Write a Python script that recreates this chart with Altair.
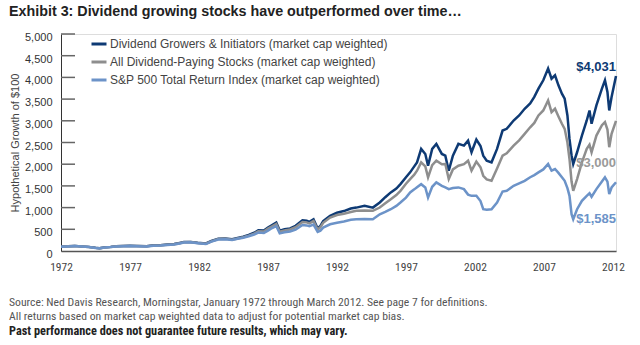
import altair as alt
import pandas as pd

# ---------------- data ----------------
years = [1972.0, 1972.5, 1973.0, 1973.5, 1974.0, 1974.5, 1974.8, 1975.2, 1975.6, 1976.0,
         1976.5, 1977.0, 1977.5, 1978.2, 1978.7, 1979.2, 1979.7, 1980.2, 1980.6, 1980.9,
         1981.4, 1981.9, 1982.5, 1982.9, 1983.4, 1983.9, 1984.4, 1984.8, 1985.2, 1985.6,
         1986.0, 1986.3, 1986.7, 1987.0, 1987.3, 1987.6, 1987.85, 1988.2, 1988.6, 1989.0,
         1989.5, 1989.8, 1990.0, 1990.3, 1990.6, 1990.8, 1991.0, 1991.5, 1992.0, 1992.5,
         1993.0, 1993.4, 1994.0, 1994.6, 1995.1, 1995.5, 1995.9, 1996.3, 1996.6, 1997.0,
         1997.3, 1997.6, 1997.8, 1998.1, 1998.4, 1998.6, 1998.9, 1999.2, 1999.6, 1999.85,
         2000.1, 2000.4, 2000.8, 2001.2, 2001.5, 2001.75, 2002.1, 2002.4, 2002.6, 2002.85,
         2003.2, 2003.6, 2004.0, 2004.3, 2004.8, 2005.2, 2005.6, 2006.0, 2006.3, 2006.6,
         2006.95, 2007.3, 2007.55, 2007.8, 2008.05, 2008.3, 2008.5, 2008.7, 2008.85, 2009.0,
         2009.12, 2009.4, 2009.75, 2010.1, 2010.3, 2010.45, 2010.8, 2011.2, 2011.42, 2011.6,
         2011.73, 2011.9, 2012.22]

growers = [100, 108, 118, 105, 95, 75, 66, 85, 95, 110,
           118, 120, 118, 112, 130, 135, 150, 160, 185, 205,
           210, 190, 175, 230, 285, 290, 270, 300, 330, 370,
           420, 480, 470, 540, 600, 655, 470, 500, 520, 580,
           710, 700, 670, 730, 520, 580, 690, 810, 880, 920,
           980, 1000, 1040, 1000, 1118, 1240, 1350, 1440, 1541, 1700,
           1812, 1950, 2043, 2352, 2236, 1965, 2352, 2468, 2236, 2197,
           1850, 2197, 2468, 2428, 2544, 2275, 2570, 2420, 2197, 2081,
           2043, 2352, 2776, 2815, 3007, 3123, 3278, 3400, 3550, 3741,
           3933, 4204, 3972, 4049, 3817, 3625, 3509, 3123, 2583, 2200,
           2005, 2275, 2660, 3007, 3238, 2931, 3354, 3741, 3933, 3664,
           3238, 3549, 4031]

all_div = [100, 107, 116, 103, 92, 72, 63, 82, 92, 107,
           115, 116, 114, 108, 125, 130, 145, 155, 180, 200,
           205, 185, 168, 222, 275, 280, 262, 290, 318, 355,
           400, 455, 448, 515, 570, 620, 445, 475, 495, 550,
           670, 660, 635, 690, 490, 550, 650, 770, 830, 860,
           900, 925, 935, 925, 1002, 1100, 1194, 1290, 1387, 1550,
           1657, 1760, 1850, 2043, 1950, 1697, 1980, 2081, 2000, 2005,
           1657, 1880, 1965, 2000, 2081, 1850, 2060, 1930, 1734, 1650,
           1618, 1900, 2197, 2250, 2428, 2550, 2699, 2850, 2950, 3123,
           3238, 3470, 3201, 3278, 3100, 2931, 2815, 2500, 2120, 1600,
           1387, 1657, 2043, 2352, 2450, 2275, 2660, 2900, 2970, 2800,
           2391, 2699, 3000]

sp500 = [100, 106, 115, 102, 90, 70, 62, 80, 90, 105,
         112, 113, 110, 105, 122, 127, 140, 150, 175, 195,
         200, 180, 160, 215, 265, 270, 255, 280, 305, 340,
         380, 425, 415, 470, 530, 575, 405, 430, 450, 490,
         600, 590, 570, 610, 440, 470, 540, 616, 650, 680,
         720, 731, 740, 731, 847, 900, 963, 1040, 1118, 1230,
         1350, 1420, 1470, 1540, 1465, 1233, 1480, 1581, 1500, 1465,
         1425, 1450, 1465, 1425, 1300, 1271, 1271, 1150, 963, 950,
         963, 1118, 1370, 1387, 1502, 1560, 1618, 1700, 1750, 1812,
         1880, 2005, 1850, 1889, 1800, 1697, 1618, 1450, 1271, 847,
         731, 963, 1155, 1271, 1330, 1250, 1426, 1600, 1697, 1600,
         1310, 1464, 1585]

series_names = ["Dividend Growers & Initiators (market cap weighted)",
                "All Dividend-Paying Stocks (market cap weighted)",
                "S&P 500 Total Return Index (market cap weighted)"]
series_colors = ["#0e3a74", "#8e8e8e", "#6c93c8"]
end_labels = ["$4,031", "$3,000", "$1,585"]
y_ticks = list(range(0, 5001, 500))
x_ticks = list(range(1972, 2013, 5))

title_text = "Exhibit 3: Dividend growing stocks have outperformed over time\u2026"
note_lines = ["Source: Ned Davis Research, Morningstar, January 1972 through March 2012. See page 7 for definitions.",
              "All returns based on market cap weighted data to adjust for potential market cap bias."]
note_bold = "Past performance does not guarantee future results, which may vary."

# ---------------- build tables ----------------
rows = []
for name, vals in zip(series_names, [growers, all_div, sp500]):
    for yr, v in zip(years, vals):
        rows.append({"year": yr, "value": v, "series": name})
df = pd.DataFrame(rows)

ends = pd.DataFrame({"year": [years[-1]] * 3,
                     "value": [growers[-1], all_div[-1], sp500[-1]],
                     "series": series_names,
                     "label": end_labels})

REG = "Liberation Sans, Arial, sans-serif"
COND = "Roboto Condensed, Liberation Sans, sans-serif"

xscale = alt.Scale(domain=[1972, years[-1]], nice=False, zero=False)
yscale = alt.Scale(domain=[0, 5000], nice=False)
cscale = alt.Scale(domain=series_names, range=series_colors)

legend = alt.Legend(orient="none", legendX=29, legendY=1, title=None,
                    symbolType="stroke", symbolSize=225, symbolStrokeWidth=3,
                    labelFont=REG, labelFontSize=12, labelColor="#444",
                    rowPadding=3, labelLimit=400, padding=0, labelOffset=2)

x_axis = alt.Axis(values=x_ticks, format="d", title=None, ticks=False, grid=False,
                  domainColor="#555", domainWidth=1.5, labelFont=COND,
                  labelFontSize=11.5, labelColor="#444", labelPadding=10,
                  labelFlush=False)
y_axis = alt.Axis(values=y_ticks, format=",.0f", title="Hypothetical Growth of $100",
                  ticks=False, grid=False, domainColor="#333", domainWidth=1,
                  labelFont=REG, labelFontSize=11, labelColor="#333", labelPadding=9,
                  labelOffset=3.5,
                  titleFont=REG, titleFontSize=11, titleFontWeight="normal",
                  titleColor="#444", titlePadding=4)

X = alt.X("year:Q", scale=xscale, axis=x_axis)
Y = alt.Y("value:Q", scale=yscale, axis=y_axis)

ticks = alt.Chart(pd.DataFrame({"value": y_ticks[1:]})).mark_rule(
    color="#666", strokeWidth=1.5).encode(y=Y, x=alt.value(0), x2=alt.value(14))

layers = [ticks]
for i, name in enumerate(series_names):
    layers.append(
        alt.Chart(df[df["series"] == name]).mark_line(strokeWidth=2.5).encode(
            x=X, y=Y,
            color=alt.Color("series:N", scale=cscale, legend=legend))
    )

label_dy = [-9, 42, 37]
label_colors = ["#0e3a74", "#9a9a9a", "#6c93c8"]
for i, name in enumerate(series_names):
    layers.append(
        alt.Chart(ends[ends["series"] == name]).mark_text(
            align="right", baseline="middle", dy=label_dy[i], font=REG,
            fontSize=13, fontWeight="bold", color=label_colors[i]).encode(
            x=X, y=Y, text="label:N")
    )

notes = alt.Chart(pd.DataFrame({"t": ["\n".join(note_lines)]})).mark_text(
    align="left", baseline="middle", font=COND, fontSize=11.7, color="#555",
    lineBreak="\n", lineHeight=14.5).encode(
    x=alt.value(-52), y=alt.value(267.5), text="t:N")
notes_b = alt.Chart(pd.DataFrame({"t": [note_bold]})).mark_text(
    align="left", baseline="middle", font=COND, fontSize=12.3, fontWeight="bold",
    color="#222").encode(x=alt.value(-52), y=alt.value(297), text="t:N")

chart = alt.layer(*layers, notes, notes_b).properties(
    width=555, height=217,
    padding={"left": 61, "top": 34, "right": 24, "bottom": 94},
    autosize=alt.AutoSizeParams(type="none"),
    title=alt.TitleParams(title_text, anchor="start", frame="group", font=REG,
                          fontSize=14.3, fontWeight="bold", color="#222",
                          dx=-52, offset=12),
).configure_view(stroke=None).configure(background="white")

chart.save("out.html", embed_options={"renderer": "svg", "actions": False})
